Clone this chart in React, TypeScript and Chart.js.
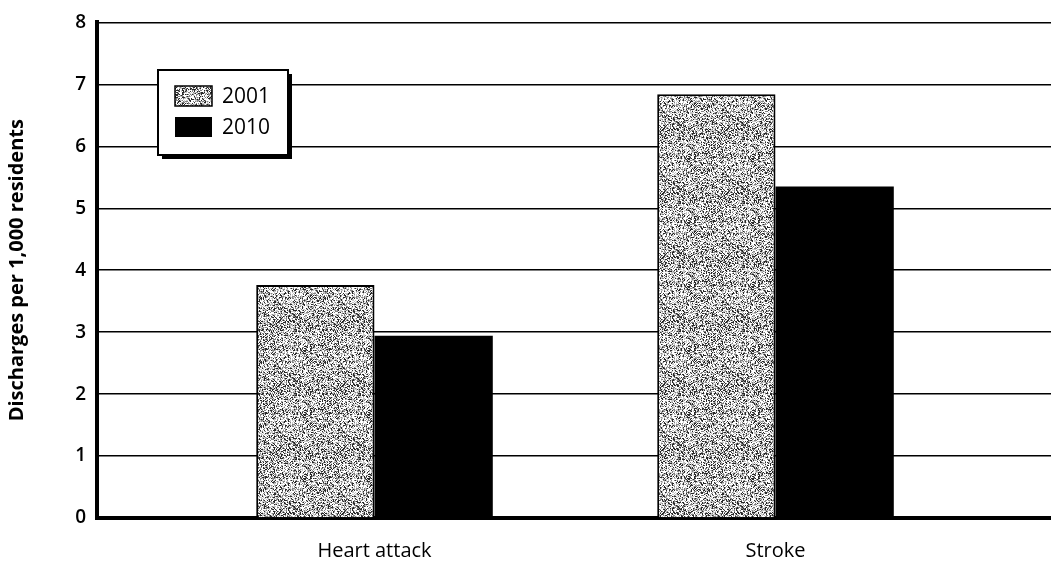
import React, { useEffect, useRef } from 'react';
import { Chart, registerables } from 'chart.js';

Chart.register(...registerables);

const categories = ['Heart attack', 'Stroke'];
const seriesLabels = ['2001', '2010'];
const values2001 = [3.76, 6.84];
const values2010 = [2.94, 5.35];
const yTickValues = [0, 1, 2, 3, 4, 5, 6, 7, 8];
const yTitle = 'Discharges per 1,000 residents';

const FONT = "'Open Sans', 'Noto Sans', sans-serif";

function makeStipple(): CanvasPattern | string {
  const c = document.createElement('canvas');
  c.width = 64;
  c.height = 64;
  const ctx = c.getContext('2d');
  if (!ctx) return '#b8b8b8';
  const img = ctx.createImageData(64, 64);
  let s = 987654321;
  for (let i = 0; i < 64 * 64; i++) {
    s = (Math.imul(s, 1103515245) + 12345) & 0x7fffffff;
    const r = (s >>> 8) % 100;
    const v = r < 20 ? 40 : r < 40 ? 130 : r < 62 ? 200 : 255;
    img.data[i * 4] = v;
    img.data[i * 4 + 1] = v;
    img.data[i * 4 + 2] = v;
    img.data[i * 4 + 3] = 255;
  }
  ctx.putImageData(img, 0, 0);
  return ctx.createPattern(c, 'repeat') || '#b8b8b8';
}

const boxLegend = {
  id: 'boxLegend',
  afterDraw(chart: any) {
    const ctx = chart.ctx;
    const x = 158, y = 70, w = 130, h = 85;
    ctx.save();
    ctx.fillStyle = '#000';
    ctx.fillRect(x + 4, y + 4, w, h);
    ctx.fillStyle = '#fff';
    ctx.fillRect(x, y, w, h);
    ctx.strokeStyle = '#000';
    ctx.lineWidth = 2;
    ctx.strokeRect(x, y, w, h);
    chart.data.datasets.forEach((ds: any, i: number) => {
      const sy = y + 16 + i * 31;
      ctx.fillStyle = ds.backgroundColor;
      ctx.fillRect(x + 17, sy, 37, 20);
      if (ds.borderWidth) {
        ctx.lineWidth = 1.5;
        ctx.strokeStyle = '#000';
        ctx.strokeRect(x + 17, sy, 37, 20);
      }
      ctx.fillStyle = '#000';
      ctx.font = `21px ${FONT}`;
      ctx.textBaseline = 'middle';
      ctx.textAlign = 'left';
      ctx.fillText(ds.label, x + 64, sy + 11);
    });
    ctx.restore();
  },
};

export default function App() {
  const ref = useRef<HTMLCanvasElement>(null);
  useEffect(() => {
    if (!ref.current) return;
    const stipple = makeStipple();
    const chart = new Chart(ref.current, {
      type: 'bar',
      data: {
        datasets: [
          {
            label: seriesLabels[0],
            data: values2001.map((v, i) => ({ x: i, y: v })),
            backgroundColor: stipple as any,
            borderColor: '#000',
            borderWidth: 2,
            categoryPercentage: 0.59,
            barPercentage: 1,
          },
          {
            label: seriesLabels[1],
            data: values2010.map((v, i) => ({ x: i, y: v })),
            backgroundColor: '#000',
            borderWidth: 0,
            categoryPercentage: 0.59,
            barPercentage: 1,
          },
        ],
      },
      options: {
        animation: false,
        responsive: false,
        layout: { padding: { top: 20, right: 0, bottom: 0, left: 0 } },
        plugins: { legend: { display: false }, tooltip: { enabled: false } },
        scales: {
          x: {
            type: 'linear',
            offset: false,
            min: -0.692,
            max: 1.687,
            grid: { display: false, offset: false },
            border: { color: '#000', width: 4 },
            afterBuildTicks: (axis: any) => {
              axis.ticks = categories.map((_, i) => ({ value: i }));
            },
            afterFit: (axis: any) => {
              axis.height = 45;
            },
            ticks: {
              autoSkip: false,
              maxRotation: 0,
              color: '#000',
              padding: 13,
              font: { family: FONT, size: 20 },
              callback: (v: any) => categories[v] ?? '',
            },
          },
          y: {
            min: 0,
            max: 8,
            afterBuildTicks: (axis: any) => {
              axis.ticks = yTickValues.map((v) => ({ value: v }));
            },
            afterFit: (axis: any) => {
              axis.width = 97;
            },
            grid: { color: '#000', lineWidth: 1.5, drawTicks: false },
            border: { color: '#000', width: 4 },
            ticks: {
              color: '#000',
              padding: 11,
              font: { family: FONT, size: 19, weight: '600' },
            },
            title: {
              display: true,
              text: yTitle,
              color: '#000',
              font: { family: FONT, size: 20, weight: 'bold' },
              padding: { top: 5, bottom: 0 },
            },
          },
        },
      },
      plugins: [boxLegend],
    } as any);
    return () => chart.destroy();
  }, []);
  return (
    <div style={{ position: 'absolute', left: 0, top: 0, width: 1051, height: 563, background: '#fff' }}>
      <canvas ref={ref} width={1051} height={563} />
    </div>
  );
}
